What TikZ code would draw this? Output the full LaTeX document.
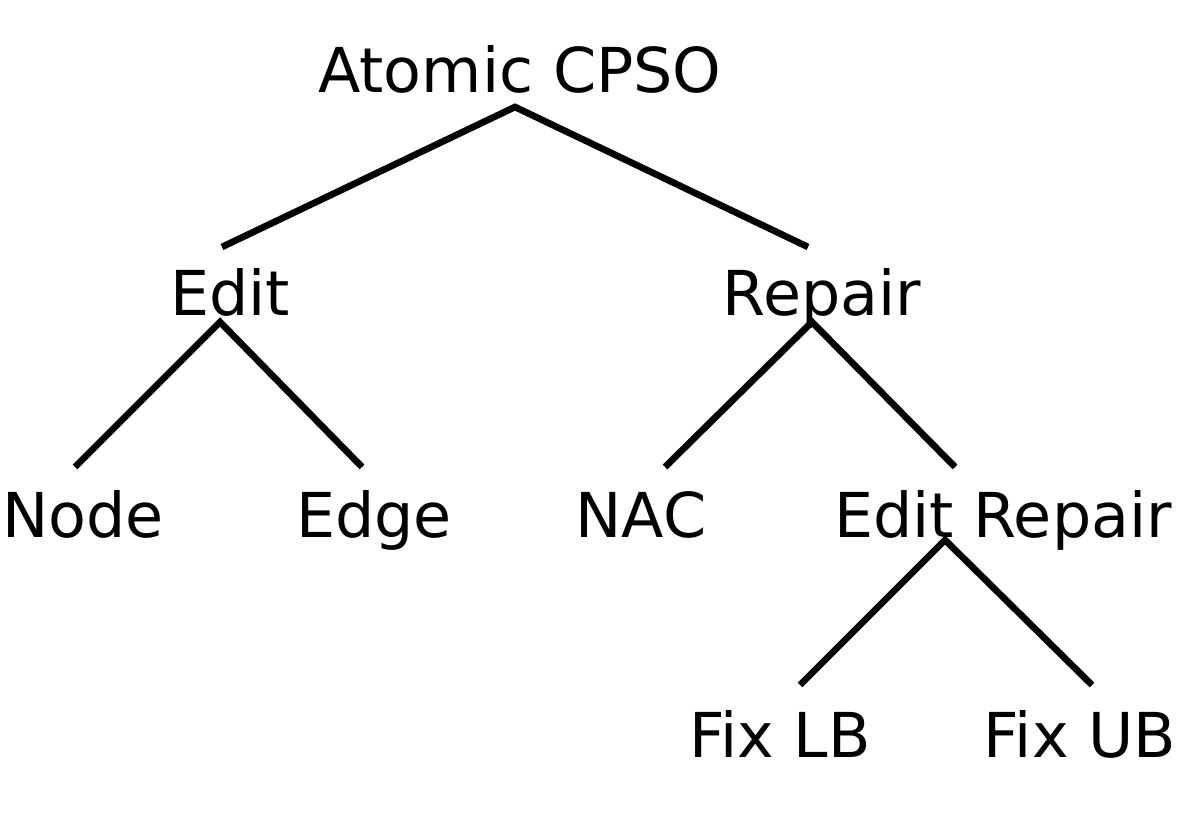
\documentclass[tikz,border=0pt]{standalone}
\usepackage{fontspec}
\setmainfont{DejaVu Sans}
\usetikzlibrary{calc}
\tikzset{
  lbl/.style={anchor=base, inner sep=0pt, font=\fontsize{17.6}{21}\selectfont},
  branch/.style={line width=1.9pt},
}

\begin{document}
\begin{tikzpicture}[x=0.01cm, y=-0.01cm]
    \useasboundingbox (0,0) rectangle (1182,813);
    % labels, placed on their baselines
    \node[lbl] (root) at (520,93) {Atomic CPSO};
    \node[lbl] (edit) at (230,316) {Edit};
    \node[lbl] (rep) at (822,316) {Repair};
    \node[lbl] (nd) at (83,538) {Node};
    \node[lbl] (ed) at (374,538) {Edge};
    \node[lbl] (nac) at (641,538) {NAC};
    \node[lbl] (erep) at (1003,538) {Edit Repair};
    \node[lbl] (lb) at (780,758) {Fix LB};
    \node[lbl] (ub) at (1080,758) {Fix UB};
    % branches
    \draw[branch] ($(edit.base)+(-8,-69)$) -- ($(root.base)+(-5,14)$) -- ($(rep.base)+(-14,-69)$);
    \draw[branch] ($(nd.base)+(-8,-71)$) -- ($(edit.base)+(-10,6)$) -- ($(ed.base)+(-12,-71)$);
    \draw[branch] ($(nac.base)+(24,-71)$) -- ($(rep.base)+(-10,6)$) -- ($(erep.base)+(-48,-71)$);
    \draw[branch] ($(lb.base)+(20,-73)$) -- ($(erep.base)+(-58,2)$) -- ($(ub.base)+(12,-73)$);
\end{tikzpicture}
\end{document}
